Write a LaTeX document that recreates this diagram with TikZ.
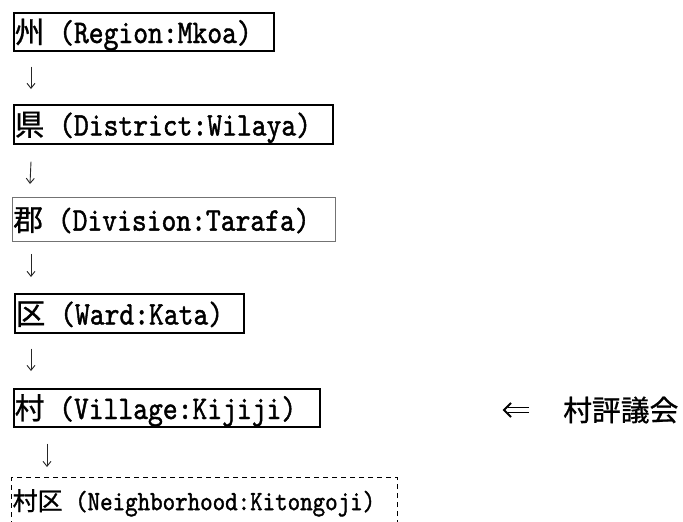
\documentclass[tikz,border=0pt]{standalone}
\usepackage{fontspec}
\newfontfamily\cjkfont[FakeBold=0.8]{Noto Sans CJK JP}
\newfontfamily\monofont[FakeBold=1.3,FakeStretch=0.855]{lmmono10-regular.otf}
\usetikzlibrary{arrows.meta}
\newcommand{\lvlA}[2]{{\cjkfont\fontsize{29.6}{30}\selectfont #1}\hspace*{14.8pt}{\monofont\fontsize{33}{30}\selectfont (#2)}}
\newcommand{\lvlB}[2]{{\cjkfont\fontsize{25}{26}\selectfont #1}\hspace*{12.5pt}{\monofont\fontsize{27.85}{26}\selectfont (#2)}}
\tikzset{
  lvlbox/.style={draw=black, line width=1.6pt, anchor=north west, inner xsep=1pt, inner ysep=0pt,
    align=left, text height=26pt, text depth=3.6pt},
  thinbox/.style={lvlbox, draw=black!55, line width=0.9pt},
  dashbox/.style={lvlbox, line width=1.3pt, dash pattern=on 5pt off 4pt, text height=32.5pt, text depth=25pt},
  arr/.style={line width=0.9pt, draw=black!85, -{Straight Barb[length=5pt,width=8pt]}},
  dblline/.style={line width=1.7pt, line cap=butt},
  dblhead/.style={line width=1.8pt, line join=miter},
}
\begin{document}
\begin{tikzpicture}[x=1pt,y=1pt]
\path[use as bounding box] (0,0) rectangle (683,-522);
\clip (0,0) rectangle (683,-522);
\node[lvlbox, text width=258pt, minimum height=38pt] (b1) at (13,-12) {\lvlA{州}{Region:Mkoa}};
\node[lvlbox, text width=317pt, minimum height=39pt] (b2) at (13,-104) {\lvlA{県}{District:Wilaya}};
\node[thinbox, text width=321pt, minimum height=44pt] (b3) at (12,-197) {\lvlA{郡}{Division:Tarafa}};
\node[lvlbox, text width=227pt, minimum height=39pt] (b4) at (14,-293) {\lvlA{区}{Ward:Kata}};
\node[lvlbox, text width=304pt, minimum height=38pt] (b5) at (13,-388) {\lvlA{村}{Village:Kijiji}};
\node[dashbox, text width=384pt] (b6) at (11,-477) {\lvlB{村区}{Neighborhood:Kitongoji}};
\node[anchor=west, inner sep=0pt, font=\cjkfont\fontsize{28.8}{30}\selectfont] (council) at (563,-410) {村評議会};
\draw[arr] ([xshift=18pt,yshift=-15pt]b1.south west) -- ([xshift=18pt,yshift=15pt]b2.north west);
\draw[arr] ([xshift=18pt,yshift=-17pt]b2.south west) -- ([xshift=18pt,yshift=13pt]b3.north west);
\draw[arr] ([xshift=19pt,yshift=-12pt]b3.south west) -- ([xshift=17pt,yshift=16pt]b4.north west);
\draw[arr] ([xshift=17pt,yshift=-15pt]b4.south west) -- ([xshift=18pt,yshift=17pt]b5.north west);
\draw[arr] ([xshift=34pt,yshift=-16pt]b5.south west) -- ([xshift=36pt,yshift=10pt]b6.north west);
% double arrow (⇐) pointing from the council toward the village box
\draw[dblline] ([xshift=-34pt,yshift=2.6pt]council.west) -- ([xshift=-55pt,yshift=2.6pt]council.west);
\draw[dblline] ([xshift=-34pt,yshift=-2.6pt]council.west) -- ([xshift=-55pt,yshift=-2.6pt]council.west);
\draw[dblhead] ([xshift=-52pt,yshift=7pt]council.west) -- ([xshift=-59pt,yshift=0pt]council.west) -- ([xshift=-52pt,yshift=-7pt]council.west);
\end{tikzpicture}
\end{document}
